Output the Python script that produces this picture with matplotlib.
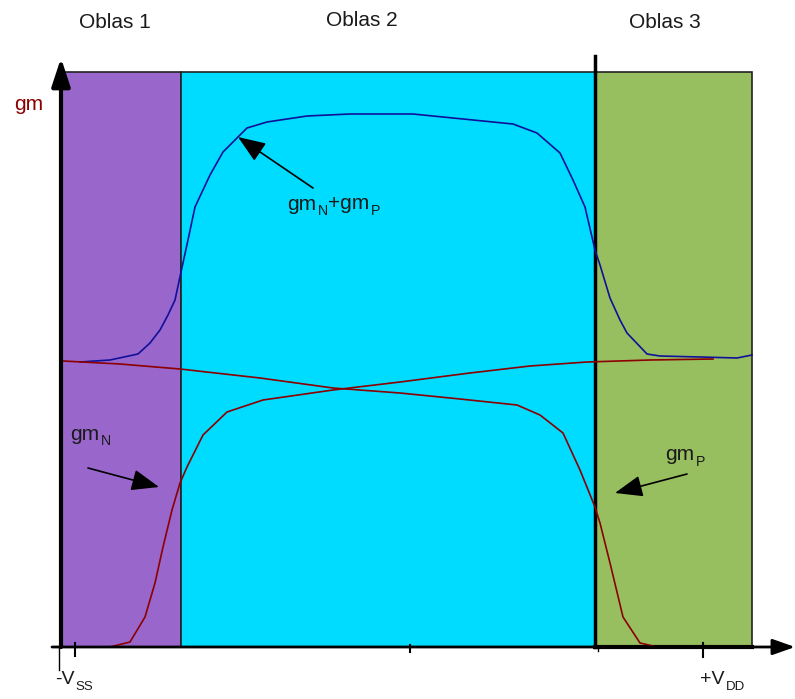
import matplotlib.pyplot as plt
from matplotlib.patches import Rectangle

plt.rcParams['font.family'] = ['Liberation Sans', 'DejaVu Sans']

# operating regions (gate voltage span)
region_names = ['Oblas 1', 'Oblas 2', 'Oblas 3']
region_edges = [0, 120, 534, 691]
region_colors = ['#9966cc', '#00dcff', '#98bf5f']
region_top = 575

# gmN + gmP
sum_v = [19, 49, 77, 89, 99, 107, 114, 120, 127, 134, 149, 162, 177, 186, 206, 246,
         289, 319, 352, 402, 452, 476, 499, 512, 524, 534, 539, 549, 559, 566, 586,
         599, 639, 676, 691]
sum_gm = [285, 287, 293, 304, 317, 332, 347, 375, 407, 440, 472, 495, 510, 519, 525,
          531, 533, 533, 533, 528, 523, 514, 494, 467, 440, 397, 382, 349, 327, 314,
          293, 291, 290, 289, 292]

# gmN
n_v = [49, 69, 84, 94, 102, 111, 119, 126, 142, 166, 202, 272, 339, 409, 469, 526, 589, 652]
n_gm = [0, 5, 30, 64, 100, 137, 164, 180, 212, 235, 247, 257, 265, 274, 281, 285, 287, 288]

# gmP
p_v = [2, 59, 119, 199, 272, 339, 399, 456, 479, 502, 519, 534, 539, 549, 562, 579, 592]
p_gm = [286, 283, 278, 269, 259, 254, 248, 242, 232, 214, 177, 140, 124, 84, 30, 4, 1]

TEXT = '#1a1a1a'


def sub_label(ax, x, y, parts, size=15, color=TEXT):
    """Write text pieces one after another; odd pieces are dropped subscripts."""
    prev = ax.text(x, y, parts[0], fontsize=size, color=color, va='center', zorder=7)
    for i, part in enumerate(parts[1:], start=1):
        if i % 2:
            prev = ax.annotate(part, xy=(1, 0), xycoords=prev, xytext=(1, -3.5),
                               textcoords='offset points', fontsize=size * 0.68,
                               color=color, va='bottom', zorder=7)
        else:
            prev = ax.annotate(part, xy=(1, 1), xycoords=prev, xytext=(0.5, 7.5),
                               textcoords='offset points', fontsize=size,
                               color=color, va='top', zorder=7)
    return prev


fig = plt.figure(figsize=(7.95, 6.99), dpi=100)
ax = fig.add_axes([0, 0, 1, 1])
ax.set_xlim(-61, 734)
ax.set_ylim(-52, 647)
ax.axis('off')

# coloured regions
for i in range(3):
    ax.add_patch(Rectangle((region_edges[i], 0), region_edges[i + 1] - region_edges[i],
                           region_top, facecolor=region_colors[i], edgecolor='#222222',
                           linewidth=1.2, zorder=1))
ax.plot([534, 534], [0, 591], color='black', linewidth=2.5, zorder=3)
ax.plot([534, 691], [0, 0], color='black', linewidth=3, zorder=3)

# curves
ax.plot(sum_v, sum_gm, color='#10109a', linewidth=1.2, zorder=4)
ax.plot(n_v, n_gm, color='#8b0000', linewidth=1.2, zorder=4)
ax.plot(p_v, p_gm, color='#8b0000', linewidth=1.2, zorder=4)

# axes with arrows
ax.annotate('', xy=(0, 589), xytext=(0, 0), zorder=5,
            arrowprops=dict(arrowstyle='-|>,head_length=0.85,head_width=0.28', color='black',
                            shrinkA=0, shrinkB=0, mutation_scale=20, linewidth=3))
ax.plot([-2, -2], [0, -23], color='black', linewidth=1, zorder=5)
ax.annotate('', xy=(734, 0), xytext=(-9, 0), zorder=5,
            arrowprops=dict(arrowstyle='-|>,head_length=0.68,head_width=0.24', color='black',
                            shrinkA=0, shrinkB=0, mutation_scale=20, linewidth=2))
ax.plot([14, 14], [-9, 4], color='black', linewidth=1.5, zorder=5)
ax.plot([349, 349], [-5, 2], color='black', linewidth=1.5, zorder=5)
ax.plot([537, 537], [-4, 0], color='black', linewidth=1, zorder=5)
ax.plot([642, 642], [-10, 4], color='black', linewidth=1.5, zorder=5)

# region titles
title_pos = [(54, 625), (301, 627), (604, 624)]
for name, (x, y) in zip(region_names, title_pos):
    ax.text(x, y, name, fontsize=15, color=TEXT, ha='center', va='center')

ax.text(-47, 542, 'gm', fontsize=15, color='#8b0000', va='center')
sub_label(ax, -6, -33, ['-V', 'SS'], size=14)
sub_label(ax, 639, -33, ['+V', 'DD'], size=14)

# labelled arrows
pointer = dict(arrowstyle='-|>,head_length=0.85,head_width=0.33', color='black',
               shrinkA=0, shrinkB=0, mutation_scale=20, linewidth=1.2)
ax.annotate('', xy=(177, 510), xytext=(252, 459), arrowprops=pointer, zorder=6)
sub_label(ax, 226, 443, ['gm', 'N', '+gm', 'P'])

ax.annotate('', xy=(98, 160), xytext=(27, 179), arrowprops=pointer, zorder=6)
sub_label(ax, 9, 213, ['gm', 'N'])

ax.annotate('', xy=(554, 154), xytext=(626, 173), arrowprops=pointer, zorder=6)
sub_label(ax, 604, 192, ['gm', 'P'])

fig.savefig('out.png', dpi=100)
